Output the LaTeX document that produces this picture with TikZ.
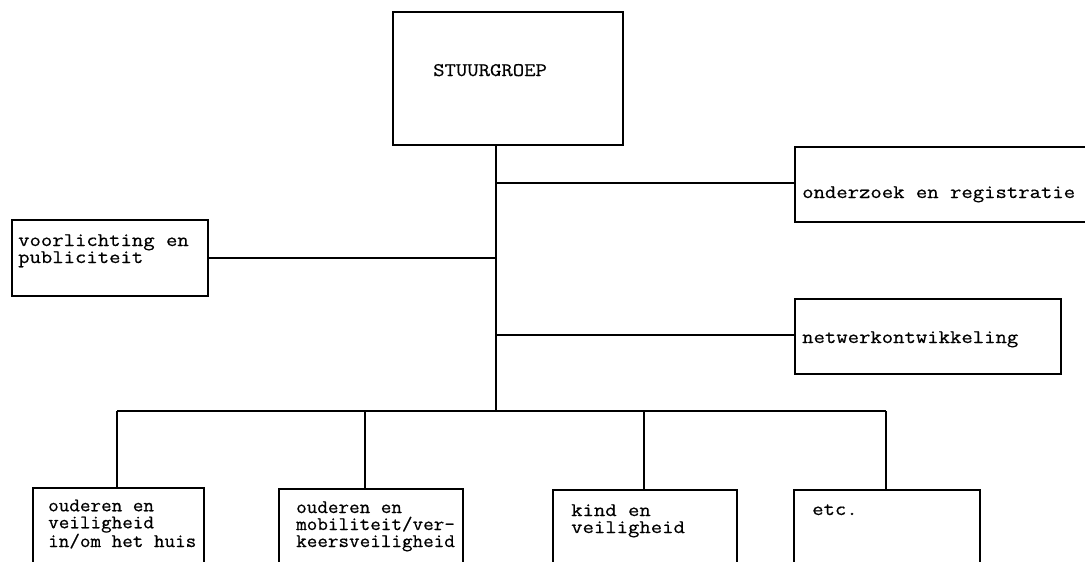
\documentclass[tikz,border=0pt]{standalone}
\usepackage{fontspec}
\setmonofont{Latin Modern Mono}[FakeStretch=1.15,FakeBold=0.6]
\newfontfamily\ttnarrow{Latin Modern Mono}[FakeStretch=1.07,FakeBold=0.6]
\begin{document}
\begin{tikzpicture}[x=1pt,y=-1pt,
  box/.style={draw, line width=1.7pt, inner sep=0pt, anchor=north west},
  lbl/.style={anchor=base west, inner sep=0pt, align=left, font=\ttfamily\fontsize{19.2}{17}\selectfont},
  lbln/.style={lbl, font=\ttnarrow\fontsize{19.2}{17}\selectfont},
  wire/.style={line width=1.7pt}]
\useasboundingbox (0,0) rectangle (1085,562);
\clip (0,0) rectangle (1085,562);
% boxes
\node[box, minimum width=230pt, minimum height=133pt] (s) at (392,11) {};
\node[box, minimum width=330pt, minimum height=75pt] (o) at (794,146) {};
\node[box, minimum width=196pt, minimum height=76pt] (v) at (11,219) {};
\node[box, minimum width=266pt, minimum height=75pt] (n) at (794,298) {};
\node[box, minimum width=171pt, minimum height=100pt] (b1) at (32,487) {};
\node[box, minimum width=184pt, minimum height=100pt] (b2) at (278,488) {};
\node[box, minimum width=184pt, minimum height=100pt] (b3) at (552,489) {};
\node[box, minimum width=186pt, minimum height=100pt] (b4) at (793,489) {};
% texts (anchor = baseline of the last line)
\node[lbl] (ts) at (433,76) {STUURGROEP};
\node[lbl] (to) at (802,198) {onderzoek en registratie};
\node[lbl] (tn) at (802,343) {netwerkontwikkeling};
\node[lbl] (tv) at (18,263) {voorlichting en\\publiciteit};
\node[lbln] (t1) at (48,547) {ouderen en\\veiligheid\\in/om het huis};
\node[lbln] (t2) at (296,547) {ouderen en\\mobiliteit/ver-\\keersveiligheid};
\node[lbl] (t3) at (571,533) {kind en\\veiligheid};
\node[lbl] (t4) at (812,515) {etc.};
% junctions
\coordinate (jo) at (496,183);
\coordinate (jv) at (496,258);
\coordinate (jn) at (496,335);
\coordinate (jb) at (496,411);
\coordinate (d1) at (117,411);
\coordinate (d2) at (365,411);
\coordinate (d3) at (644,411);
\coordinate (d4) at (886,411);
% connectors
\draw[wire] (s.south -| jb) -- (jb);
\draw[wire] (jo) -- (jo -| o.west);
\draw[wire] (jv) -- (jv -| v.east);
\draw[wire] (jn) -- (jn -| n.west);
\draw[wire] (d1) -- (d4);
\draw[wire] (d1) -- (d1 |- b1.north);
\draw[wire] (d2) -- (d2 |- b2.north);
\draw[wire] (d3) -- (d3 |- b3.north);
\draw[wire] (d4) -- (d4 |- b4.north);
\end{tikzpicture}
\end{document}
